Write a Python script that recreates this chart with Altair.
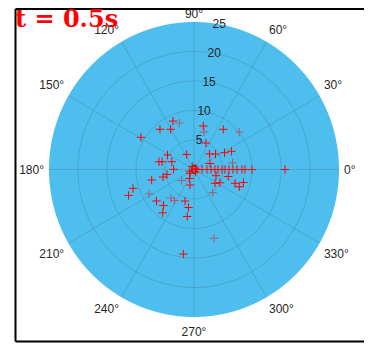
import altair as alt
import numpy as np
import pandas as pd

# ---- data ----
red_r = [8.98, 8.99, 7.91, 10.65, 2.84, 5.19, 6.18, 5.67, 4.06, 3.53, 7.54, 8.48, 4.94, 3.75,
         4.54, 5.98, 7.16, 2.94, 15.69,
         0.52, 1.38, 2.24, 2.93, 3.62, 4.14, 4.83, 5.34, 6.03, 6.72, 7.41, 8.28, 8.79, 10.0,
         7.51, 5.49, 4.73, 0.94, 1.71, 2.72, 10.99, 12.12, 8.39, 8.05, 5.56, 6.51, 9.11, 8.05,
         14.44, 3.94, 4.31, 5.01, 6.03, 7.45, 8.34, 8.81,
         0.3, 0.6, 0.5, 0.8]
red_theta = [113.8, 130.7, 120.6, 149.2, 116.4, 151.7, 167.7, 166.6, 161.0, 179.5, 77.7, 53.4, 65.3, 44.5,
             35.3, 28.4, 25.5, 20.3, 0.0,
             0, 0, 0, 0, 0, 0, 0, 0, 0, 0, 0, 0, 0, 0,
             193.7, 193.4, 190.3, 222.9, 243.0, 255.3, 196.9, 201.3, 219.5, 229.2, 253.8, 261.6, 233.7, 261.7,
             262.7, 344.5, 327.1, 333.4, 348.6, 341.7, 339.5, 345.5,
             45, 120, 300, 200]
faded_r = [8.28, 6.59, 10.07, 6.73, 2.82, 8.78, 6.25, 6.24, 5.08, 12.16]
faded_theta = [107.8, 74.9, 39.1, 9.4, 221.3, 208.0, 230.6, 237.4, 309.3, 286.5]

ring_values = [5, 10, 15, 20]
r_tick_values = [0, 5, 10, 15, 20, 25]
angle_values = [0, 30, 60, 90, 120, 150, 180, 210, 240, 270, 300, 330]
title_text = "t = 0.5s"
R_MAX = 25

# ---- geometry helpers ----
W, H = 290, 295
xs = alt.Scale(domain=[-R_MAX, R_MAX], nice=False, zero=False)
ys = alt.Scale(domain=[-R_MAX, R_MAX], nice=False, zero=False)
GRID = "#262626"
FONT = "Liberation Sans"

bg_x = np.linspace(-R_MAX, R_MAX, 2501)
bg_df = pd.DataFrame({"x": bg_x})
bg_df["y"] = np.sqrt(np.clip(R_MAX**2 - bg_x**2, 0, None))
bg_df["y2"] = -bg_df["y"]

bg = alt.Chart(bg_df).mark_area(color="#4DBEEE").encode(
    x=alt.X("x:Q", scale=xs, axis=None),
    y=alt.Y("y:Q", scale=ys, axis=None),
    y2="y2:Q",
)

a = np.arange(0, 361, 2)
ring_rows = []
for rv in ring_values:
    for i, ang in enumerate(a):
        ring_rows.append({"ring": rv, "i": i,
                          "x": rv * np.cos(np.radians(ang)),
                          "y": rv * np.sin(np.radians(ang))})
rings = alt.Chart(pd.DataFrame(ring_rows)).mark_line(
    stroke=GRID, strokeOpacity=0.15, strokeWidth=1
).encode(
    x=alt.X("x:Q", scale=xs, axis=None),
    y=alt.Y("y:Q", scale=ys, axis=None),
    detail="ring:N",
    order="i:Q",
)

spokes = alt.Chart(pd.DataFrame({"ang": angle_values})).transform_calculate(
    x0="0", y0="0",
    x1=f"{R_MAX}*cos(datum.ang*PI/180)",
    y1=f"{R_MAX}*sin(datum.ang*PI/180)",
).mark_rule(stroke=GRID, strokeOpacity=0.15, strokeWidth=1).encode(
    x=alt.X("x0:Q", scale=xs, axis=None),
    y=alt.Y("y0:Q", scale=ys, axis=None),
    x2="x1:Q",
    y2="y1:Q",
)

cross = "M-1,0L1,0M0,-1L0,1"


def pts(rr, tt, opacity):
    return alt.Chart(pd.DataFrame({"r": rr, "theta": tt})).transform_calculate(
        x="datum.r*cos(datum.theta*PI/180)",
        y="datum.r*sin(datum.theta*PI/180)",
    ).mark_point(shape=cross, filled=False, stroke="#FF0000", strokeWidth=1,
                 size=70, opacity=opacity).encode(
        x=alt.X("x:Q", scale=xs, axis=None),
        y=alt.Y("y:Q", scale=ys, axis=None),
    )


faded = pts(faded_r, faded_theta, 0.5)
red = pts(red_r, red_theta, 1.0)

# angle labels
lab_df = pd.DataFrame({"ang": angle_values,
                       "label": [f"{v}°" for v in angle_values]})
LR = R_MAX + 0.86
calc = dict(
    s="sin(datum.ang*PI/180)",
    c="cos(datum.ang*PI/180)",
)


def lab_layer(filt, align):
    return alt.Chart(lab_df).transform_calculate(**calc).transform_calculate(
        lx=f"{LR}*datum.c",
        ly=(f"datum.s > 0.99 ? 26.3 : (datum.s < -0.99 ? -27.6 : "
            f"{LR}*datum.s + (datum.s > 0.01 ? 1.31 : (datum.s < -0.01 ? -1.31 : 0)))"),
    ).transform_filter(filt).mark_text(
        align=align, baseline="middle", font=FONT, fontSize=12, color=GRID
    ).encode(
        x=alt.X("lx:Q", scale=xs, axis=None),
        y=alt.Y("ly:Q", scale=ys, axis=None),
        text="label:N",
    )


lab_left = lab_layer("datum.c > 0.01", "left")
lab_center = lab_layer("abs(datum.c) <= 0.01", "center")
lab_right = lab_layer("datum.c < -0.01", "right")

rlab = alt.Chart(pd.DataFrame({"r": r_tick_values})).transform_calculate(
    x="datum.r*cos(80*PI/180)",
    y="datum.r*sin(80*PI/180)",
    t="datum.r + ''",
).mark_text(align="center", baseline="middle", font=FONT, fontSize=12, color=GRID).encode(
    x=alt.X("x:Q", scale=xs, axis=None),
    y=alt.Y("y:Q", scale=ys, axis=None),
    text="t:N",
)

one = pd.DataFrame({"k": [0]})
PL, PT = 41, 14
title = alt.Chart(one).mark_text(
    text=title_text, font="DejaVu Serif", fontWeight="bold", fontSize=24,
    color="#FF0000", align="left", baseline="alphabetic"
).encode(x=alt.value(7 - PL), y=alt.value(18.5 - PT))

frame_left = alt.Chart(one).mark_rule(color="black", strokeWidth=2).encode(
    x=alt.value(7.5 - PL), y=alt.value(1 - PT), y2=alt.value(333.5 - PT))
frame_top = alt.Chart(one).mark_rule(color="black", strokeWidth=2).encode(
    y=alt.value(1 - PT), x=alt.value(7.5 - PL), x2=alt.value(356 - PL))
frame_bottom = alt.Chart(one).mark_rule(color="black", strokeWidth=2).encode(
    y=alt.value(333.5 - PT), x=alt.value(7.5 - PL), x2=alt.value(356 - PL))

chart = alt.layer(
    bg, rings, spokes, rlab, faded, red,
    lab_left, lab_center, lab_right,
    frame_left, frame_top, frame_bottom, title,
).properties(
    width=W, height=H,
    autosize=alt.AutoSizeParams(type="none"),
    padding={"left": PL, "top": PT, "right": 356 - PL - W, "bottom": 335 - PT - H},
).configure_view(stroke=None)

chart.save("out.html", embed_options={"renderer": "svg", "actions": False})
